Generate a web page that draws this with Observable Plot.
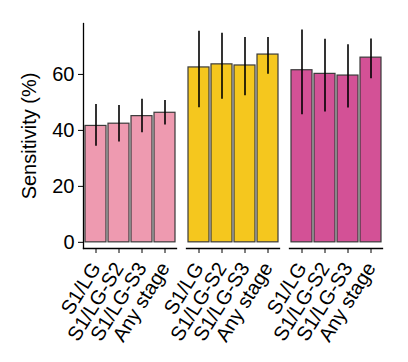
<!DOCTYPE html>
<html><head>
<meta charset="utf-8">
<script src="https://cdn.jsdelivr.net/npm/d3@7"></script>
<script src="https://cdn.jsdelivr.net/npm/@observablehq/plot@0.6"></script>
<style>body{margin:0;background:#fff}</style>
</head><body><div id="chart"></div>
<script>
const groups = ["Group 1", "Group 2", "Group 3"];
const stages = ["S1/LG", "S1/LG-S2", "S1/LG-S3", "Any stage"];
const colors = ["#EE9AB0", "#F5C71E", "#D35196"];
const yTicks = [0, 20, 40, 60];

const group1Value = [41.6, 42.4, 45.1, 46.3];
const group1Low   = [34.3, 35.9, 39.2, 41.9];
const group1High  = [49.3, 48.9, 51.1, 50.7];

const group2Value = [62.5, 63.6, 63.2, 67.1];
const group2Low   = [48.1, 51.1, 52.4, 60.1];
const group2High  = [75.4, 74.7, 73.2, 73.2];

const group3Value = [61.5, 60.2, 59.6, 66.0];
const group3Low   = [45.6, 46.6, 48.0, 58.5];
const group3High  = [75.9, 72.6, 70.6, 72.7];

const values = [group1Value, group2Value, group3Value];
const lows = [group1Low, group2Low, group3Low];
const highs = [group1High, group2High, group3High];

const rows = groups.flatMap((g, gi) => stages.map((s, i) => ({
  group: g, stage: s, value: values[gi][i], lo: lows[gi][i], hi: highs[gi][i]
})));

const chart = Plot.plot({
  width: 408, height: 362,
  marginLeft: 82, marginRight: 24, marginTop: 23, marginBottom: 114,
  style: {fontFamily: "'Liberation Sans', Arial, sans-serif", fontSize: "20px", color: "#000", background: "#fff", overflow: "visible"},
  fx: {domain: groups, padding: 0.096, axis: null, label: null},
  x: {domain: stages, paddingInner: 0.1, paddingOuter: 0.065, label: null},
  y: {domain: [-2.2, 78.2], label: "Sensitivity (%)"},
  color: {domain: groups, range: colors},
  marks: [
    Plot.barY(rows, {fx: "group", x: "stage", y1: 0, y2: "value", fill: "group", stroke: "#3a3a3a", strokeWidth: 1.2}),
    Plot.ruleX(rows, {fx: "group", x: "stage", y1: "lo", y2: "hi", stroke: "#000", strokeWidth: 1.6}),
    Plot.frame({anchor: "bottom", stroke: "#000", strokeWidth: 1.3}),
    Plot.frame({anchor: "left", facetAnchor: "left", stroke: "#000", strokeWidth: 1.3}),
    Plot.axisY({ticks: yTicks, tickSize: 5, tickPadding: 4, fontSize: 20, fill: "#000", label: "Sensitivity (%)", labelAnchor: "center", labelArrow: "none", labelOffset: 62}),
    Plot.axisX({tickRotate: -58, tickSize: 5, tickPadding: 11, fontSize: 20, fill: "#000", label: null})
  ]
});
document.getElementById("chart").appendChild(chart);
</script>
</body></html>
